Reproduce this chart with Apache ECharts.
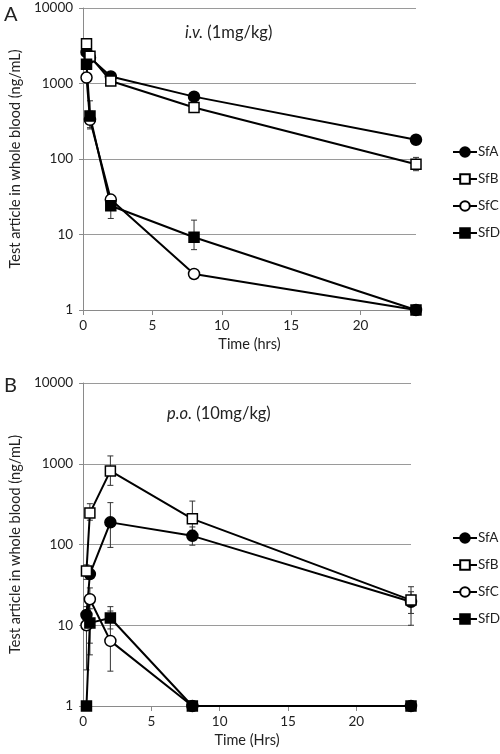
<!DOCTYPE html>
<html><head><meta charset="utf-8">
<script src="https://cdn.jsdelivr.net/npm/echarts@6/dist/echarts.min.js"></script>
<style>html,body{margin:0;padding:0;background:#fff}#c{width:500px;height:754px}</style>
</head><body><div id="c"></div>
<script>
const seriesNames = ['SfA', 'SfB', 'SfC', 'SfD'];
const xTicks = [0, 5, 10, 15, 20];
const yTicks = [1, 10, 100, 1000, 10000];

// Panel A: i.v. (1 mg/kg)
const timeA = [0.25, 0.5, 2, 8, 24];
const sfA_iv = [2600, 2200, 1240, 670, 180];
const sfB_iv = [3370, 2300, 1080, 480, 85];
const sfC_iv = [1200, 330, 29, 3.0, 1];
const sfD_iv = [1800, 370, 24, 9.2, 1];
// error bars [time, low, high]
const errA_iv = [];
const errB_iv = [[24, 70, 105]];
const errC_iv = [[0.5, 250, 430]];
const errD_iv = [[0.5, 260, 590], [2, 16.3, 33], [8, 6.3, 15.5]];

// Panel B: p.o. (10 mg/kg)
const timeB = [0.25, 0.5, 2, 8, 24];
const sfA_po = [13.4, 43, 188, 128, 19.5];
const sfB_po = [47, 245, 815, 208, 20.5];
const sfC_po = [10, 21, 6.4, 1, 1];
const sfD_po = [1, 10.7, 12.3, 1, 1];
const errA_po = [[2, 92, 330], [8, 98, 165], [24, 10, 26]];
const errB_po = [[0.25, 37, 56], [0.5, 200, 320], [2, 540, 1250], [8, 150, 345], [24, 14, 30]];
const errC_po = [[0.25, 2.8, 17], [0.5, 4.3, 29], [2, 2.7, 15]];
const errD_po = [[0.5, 6, 16], [2, 9, 17]];

const FONT = 'Lato';
const styles = {
  SfA: {symbol: 'circle', size: 11, fill: '#000'},
  SfB: {symbol: 'rect', size: 10, fill: '#fff'},
  SfC: {symbol: 'circle', size: 11, fill: '#fff'},
  SfD: {symbol: 'rect', size: 10, fill: '#000'}
};

function lineSeries(name, times, vals, idx) {
  const s = styles[name];
  return {
    type: 'line', name: name, xAxisIndex: idx, yAxisIndex: idx,
    data: times.map((t, i) => [t, vals[i]]),
    symbol: s.symbol, symbolSize: s.size, showAllSymbol: true,
    lineStyle: {color: '#000', width: 2},
    itemStyle: {color: s.fill, borderColor: '#000', borderWidth: 1.5},
    z: 3, animation: false
  };
}
function errSeries(data, idx) {
  return {
    type: 'custom', xAxisIndex: idx, yAxisIndex: idx, z: 2, animation: false,
    data: data,
    encode: {x: 0, y: [1, 2]},
    renderItem: function (params, api) {
      const lo = api.coord([api.value(0), api.value(1)]);
      const hi = api.coord([api.value(0), api.value(2)]);
      const w = 3;
      const st = {stroke: '#333', lineWidth: 1};
      return {type: 'group', children: [
        {type: 'line', shape: {x1: lo[0], y1: lo[1], x2: hi[0], y2: hi[1]}, style: st},
        {type: 'line', shape: {x1: lo[0] - w, y1: lo[1], x2: lo[0] + w, y2: lo[1]}, style: st},
        {type: 'line', shape: {x1: hi[0] - w, y1: hi[1], x2: hi[0] + w, y2: hi[1]}, style: st}
      ]};
    }
  };
}
function xAxis(idx, name) {
  return {
    type: 'value', gridIndex: idx, min: 0, max: 24, interval: 5,
    name: name, nameLocation: 'middle', nameGap: 27,
    nameTextStyle: {fontFamily: FONT, fontSize: 14.5, color: '#222'},
    axisLine: {lineStyle: {color: '#8a8a8a', width: 1}},
    axisTick: {show: true, length: 5, lineStyle: {color: '#8a8a8a'}, customValues: xTicks},
    axisLabel: {fontFamily: FONT, fontSize: 13.5, color: '#222', margin: 9, customValues: xTicks},
    splitLine: {show: false}
  };
}
function yAxis(idx) {
  return {
    type: 'log', logBase: 10, gridIndex: idx, min: 1, max: 10000,
    name: 'Test article in whole blood (ng/mL)', nameLocation: 'middle', nameGap: 51,
    nameTextStyle: {fontFamily: FONT, fontSize: 14.5, color: '#222'},
    axisLine: {show: true, lineStyle: {color: '#8a8a8a', width: 1}},
    axisTick: {show: true, length: 4, lineStyle: {color: '#8a8a8a'}},
    axisLabel: {fontFamily: FONT, fontSize: 13.5, color: '#222', margin: 10,
      formatter: v => String(Math.round(v))},
    splitLine: {show: true, lineStyle: {color: '#9a9a9a', width: 1}},
    minorTick: {show: false}
  };
}

const chart = echarts.init(document.getElementById('c'), null, {renderer: 'canvas'});
const series = [
  lineSeries('SfA', timeA, sfA_iv, 0), lineSeries('SfB', timeA, sfB_iv, 0),
  lineSeries('SfC', timeA, sfC_iv, 0), lineSeries('SfD', timeA, sfD_iv, 0),
  lineSeries('SfA', timeB, sfA_po, 1), lineSeries('SfB', timeB, sfB_po, 1),
  lineSeries('SfC', timeB, sfC_po, 1), lineSeries('SfD', timeB, sfD_po, 1),
  errSeries(errA_iv, 0), errSeries(errB_iv, 0), errSeries(errC_iv, 0), errSeries(errD_iv, 0),
  errSeries(errA_po, 1), errSeries(errB_po, 1), errSeries(errC_po, 1), errSeries(errD_po, 1)
];
const legendCommon = {
  orient: 'vertical', left: 452, padding: 0, itemWidth: 24, itemHeight: 12, itemGap: 13,
  data: seriesNames, selectedMode: false,
  textStyle: {fontFamily: FONT, fontSize: 13.5, color: '#222', padding: [0, 0, 0, -4]}
};
chart.setOption({
  animation: false,
  textStyle: {fontFamily: FONT},
  title: [
    {text: 'A', left: -1, top: 0, textStyle: {fontFamily: FONT, fontSize: 20, fontWeight: 'normal', color: '#222'}},
    {text: 'B', left: -1, top: 371, textStyle: {fontFamily: FONT, fontSize: 20, fontWeight: 'normal', color: '#222'}},
    {text: '{i|i.v.} (1mg/kg)', left: 180, top: 19,
      textStyle: {fontFamily: FONT, fontSize: 16.5, fontWeight: 'normal', color: '#222',
        rich: {i: {fontFamily: FONT, fontSize: 16.5, fontStyle: 'italic', color: '#222'}}}},
    {text: '{i|p.o.} (10mg/kg)', left: 162, top: 400,
      textStyle: {fontFamily: FONT, fontSize: 16.5, fontWeight: 'normal', color: '#222',
        rich: {i: {fontFamily: FONT, fontSize: 16.5, fontStyle: 'italic', color: '#222'}}}}
  ],
  legend: [
    Object.assign({top: 145}, legendCommon),
    Object.assign({top: 531}, legendCommon)
  ],
  grid: [
    {left: 72, top: 8, width: 344, height: 302},
    {left: 77, top: 383, width: 334, height: 323}
  ],
  xAxis: [xAxis(0, 'Time (hrs)'), xAxis(1, 'Time (Hrs)')],
  yAxis: [yAxis(0), yAxis(1)],
  series: series
});
</script></body></html>
